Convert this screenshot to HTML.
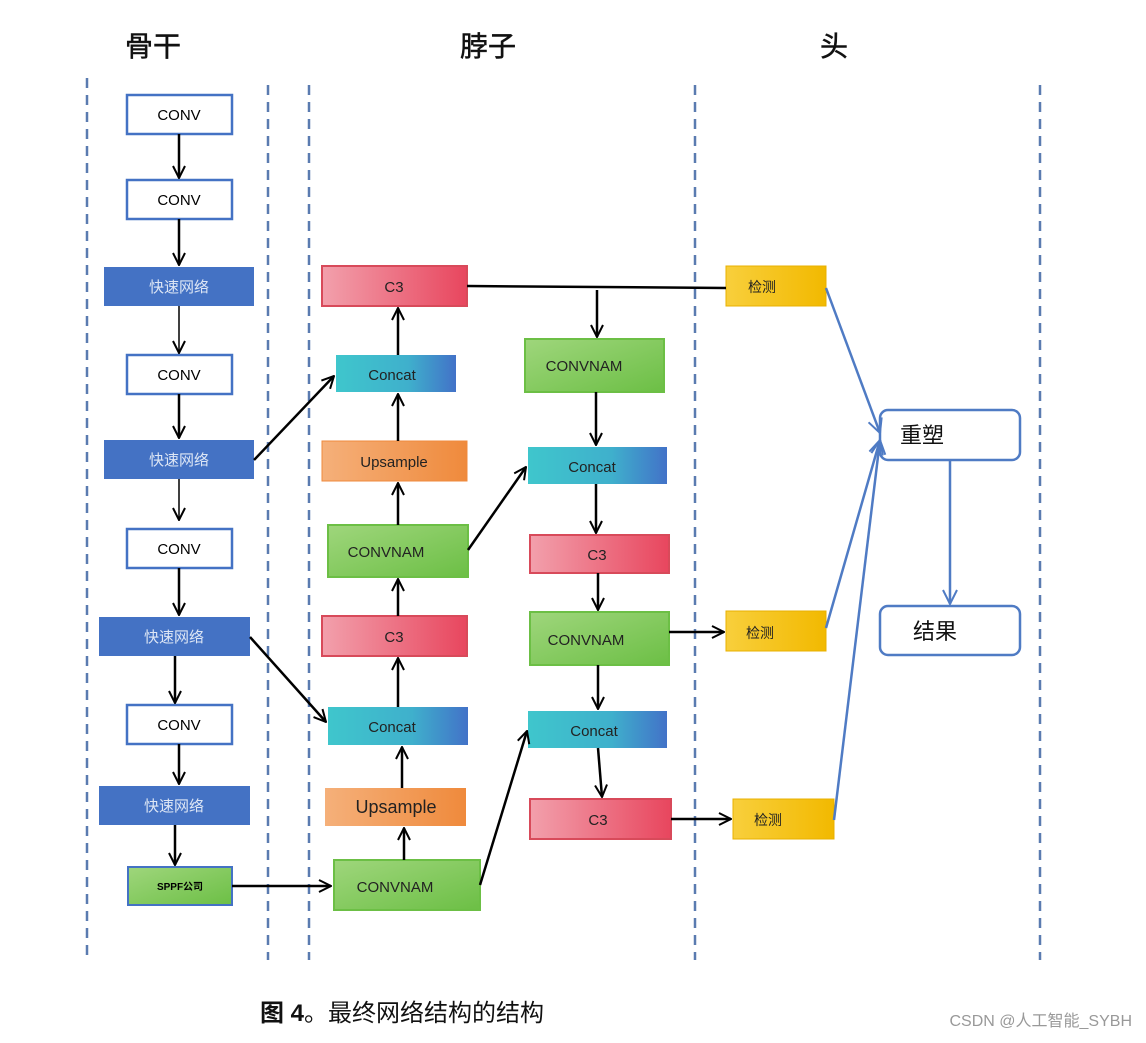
<!DOCTYPE html>
<html><head><meta charset="utf-8"><style>
html,body{margin:0;padding:0;background:#fff;}
svg text{font-family:"Liberation Sans","Noto Sans CJK SC",sans-serif;}
</style></head><body>
<svg width="1146" height="1038" viewBox="0 0 1146 1038" xmlns="http://www.w3.org/2000/svg">
<defs>
<marker id="a" viewBox="0 0 14 14" refX="13" refY="7" markerWidth="14" markerHeight="14" markerUnits="userSpaceOnUse" orient="auto"><path d="M1,1 L13,7 L1,13" fill="none" stroke="#000" stroke-width="2"/></marker>
<marker id="b" viewBox="0 0 16 16" refX="15" refY="8" markerWidth="16" markerHeight="16" markerUnits="userSpaceOnUse" orient="auto"><path d="M1,1 L15,8 L1,15" fill="none" stroke="#4f7bc4" stroke-width="2"/></marker>
<linearGradient id="red" x1="0" x2="1"><stop offset="0" stop-color="#f2a0ac"/><stop offset="1" stop-color="#e8465e"/></linearGradient>
<linearGradient id="cy" x1="0" x2="1"><stop offset="0" stop-color="#3fc6cc"/><stop offset="0.6" stop-color="#3fb0cc"/><stop offset="1" stop-color="#4272c8"/></linearGradient>
<linearGradient id="or" x1="0" x2="1"><stop offset="0" stop-color="#f5b07a"/><stop offset="1" stop-color="#ef8a3c"/></linearGradient>
<linearGradient id="gr" x1="0" x2="1" y1="0" y2="1"><stop offset="0" stop-color="#9fd67c"/><stop offset="1" stop-color="#6cbf45"/></linearGradient>
<linearGradient id="ye" x1="0" x2="1"><stop offset="0" stop-color="#f8cf3c"/><stop offset="1" stop-color="#f2b900"/></linearGradient>
</defs>
<g stroke="#5a7bb0" stroke-width="2.5" stroke-dasharray="10,7">
<line x1="87" y1="78" x2="87" y2="960"/><line x1="268" y1="85" x2="268" y2="960"/><line x1="309" y1="85" x2="309" y2="960"/><line x1="695" y1="85" x2="695" y2="960"/><line x1="1040" y1="85" x2="1040" y2="960"/>
</g>
<g font-size="28" fill="#111" stroke="#111" stroke-width="0.5"><text x="125" y="56">骨干</text><text x="460" y="56">脖子</text><text x="820" y="56">头</text></g>

<g font-size="15" text-anchor="middle">
<rect x="127" y="95" width="105" height="39" fill="#fff" stroke="#4472c4" stroke-width="2.5"/><text x="179" y="120">CONV</text>
<rect x="127" y="180" width="105" height="39" fill="#fff" stroke="#4472c4" stroke-width="2.5"/><text x="179" y="205">CONV</text>
<rect x="104" y="267" width="150" height="39" fill="#4472c4"/><text x="179" y="292" fill="#dde6f5">快速网络</text>
<rect x="127" y="355" width="105" height="39" fill="#fff" stroke="#4472c4" stroke-width="2.5"/><text x="179" y="380">CONV</text>
<rect x="104" y="440" width="150" height="39" fill="#4472c4"/><text x="179" y="465" fill="#dde6f5">快速网络</text>
<rect x="127" y="529" width="105" height="39" fill="#fff" stroke="#4472c4" stroke-width="2.5"/><text x="179" y="554">CONV</text>
<rect x="99" y="617" width="151" height="39" fill="#4472c4"/><text x="174" y="642" fill="#dde6f5">快速网络</text>
<rect x="127" y="705" width="105" height="39" fill="#fff" stroke="#4472c4" stroke-width="2.5"/><text x="179" y="730">CONV</text>
<rect x="99" y="786" width="151" height="39" fill="#4472c4"/><text x="174" y="811" fill="#dde6f5">快速网络</text>
<rect x="128" y="867" width="104" height="38" fill="url(#gr)" stroke="#4472c4" stroke-width="2"/><text x="180" y="890" font-size="10" font-weight="bold">SPPF公司</text>
</g>
<g stroke="#000" stroke-width="2.5" marker-end="url(#a)">
<line x1="179" y1="134" x2="179" y2="178"/><line x1="179" y1="219" x2="179" y2="265"/>
<line x1="179" y1="306" x2="179" y2="353" stroke-width="1.5"/><line x1="179" y1="394" x2="179" y2="438"/>
<line x1="179" y1="479" x2="179" y2="520" stroke-width="1.5"/><line x1="179" y1="568" x2="179" y2="615"/>
<line x1="175" y1="656" x2="175" y2="703"/><line x1="179" y1="744" x2="179" y2="784"/>
<line x1="175" y1="825" x2="175" y2="865"/>
<line x1="232" y1="886" x2="331" y2="886"/>
<line x1="254" y1="460" x2="334" y2="376"/>
<line x1="250" y1="637" x2="326" y2="722"/>
</g>

<g font-size="15" text-anchor="middle" fill="#222">
<rect x="322" y="266" width="145" height="40" fill="url(#red)" stroke="#d84a5a" stroke-width="2"/><text x="394" y="292">C3</text>
<rect x="336" y="355" width="120" height="37" fill="url(#cy)"/><text x="392" y="380">Concat</text>
<rect x="322" y="441" width="145" height="40" fill="url(#or)" stroke="#ef8a3c" stroke-width="1"/><text x="394" y="467">Upsample</text>
<rect x="328" y="525" width="140" height="52" fill="url(#gr)" stroke="#6cbf45" stroke-width="2"/><text x="386" y="557">CONVNAM</text>
<rect x="322" y="616" width="145" height="40" fill="url(#red)" stroke="#d84a5a" stroke-width="2"/><text x="394" y="642">C3</text>
<rect x="328" y="707" width="140" height="38" fill="url(#cy)"/><text x="392" y="732">Concat</text>
<rect x="325" y="788" width="141" height="38" fill="url(#or)"/><text x="396" y="813" font-size="18">Upsample</text>
<rect x="334" y="860" width="146" height="50" fill="url(#gr)" stroke="#6cbf45" stroke-width="2"/><text x="395" y="892">CONVNAM</text>
<rect x="525" y="339" width="139" height="53" fill="url(#gr)" stroke="#6cbf45" stroke-width="2"/><text x="584" y="371">CONVNAM</text>
<rect x="528" y="447" width="139" height="37" fill="url(#cy)"/><text x="592" y="472">Concat</text>
<rect x="530" y="535" width="139" height="38" fill="url(#red)" stroke="#d84a5a" stroke-width="2"/><text x="597" y="560">C3</text>
<rect x="530" y="612" width="139" height="53" fill="url(#gr)" stroke="#6cbf45" stroke-width="2"/><text x="586" y="645">CONVNAM</text>
<rect x="528" y="711" width="139" height="37" fill="url(#cy)"/><text x="594" y="736">Concat</text>
<rect x="530" y="799" width="141" height="40" fill="url(#red)" stroke="#d84a5a" stroke-width="2"/><text x="598" y="825">C3</text>
<rect x="726" y="266" width="100" height="40" fill="url(#ye)" stroke="#e8b000"/><text x="762" y="292" font-size="14">检测</text>
<rect x="726" y="611" width="100" height="40" fill="url(#ye)" stroke="#e8b000"/><text x="760" y="638" font-size="14">检测</text>
<rect x="733" y="799" width="101" height="40" fill="url(#ye)" stroke="#e8b000"/><text x="768" y="825" font-size="14">检测</text>
</g>
<rect x="880" y="410" width="140" height="50" rx="8" fill="#fff" stroke="#4f7bc4" stroke-width="2.5"/><text x="900" y="443" font-size="22" fill="#111">重塑</text>
<rect x="880" y="606" width="140" height="49" rx="8" fill="#fff" stroke="#4f7bc4" stroke-width="2.5"/><text x="913" y="639" font-size="22" fill="#111">结果</text>

<g stroke="#000" stroke-width="2.5" marker-end="url(#a)">
<line x1="398" y1="441" x2="398" y2="394"/><line x1="398" y1="525" x2="398" y2="483"/>
<line x1="398" y1="616" x2="398" y2="579"/><line x1="398" y1="707" x2="398" y2="658"/>
<line x1="402" y1="788" x2="402" y2="747"/><line x1="404" y1="860" x2="404" y2="828"/>
<line x1="398" y1="355" x2="398" y2="308"/>
<line x1="468" y1="550" x2="526" y2="467"/>
<line x1="480" y1="885" x2="527" y2="731"/>
<line x1="597" y1="290" x2="597" y2="337"/>
<line x1="596" y1="392" x2="596" y2="445"/><line x1="596" y1="484" x2="596" y2="533"/>
<line x1="598" y1="573" x2="598" y2="610"/><line x1="598" y1="665" x2="598" y2="709"/>
<line x1="598" y1="748" x2="602" y2="797"/>
<line x1="669" y1="632" x2="724" y2="632"/><line x1="671" y1="819" x2="731" y2="819"/>
</g>
<line x1="467" y1="286" x2="726" y2="288" stroke="#000" stroke-width="2.5"/>
<g stroke="#4f7bc4" stroke-width="2.5" marker-end="url(#b)">
<line x1="826" y1="288" x2="880" y2="433"/>
<line x1="826" y1="628" x2="880" y2="440"/>
<line x1="834" y1="820" x2="880" y2="440"/>
<line x1="950" y1="460" x2="950" y2="604"/>
</g>
<text x="260" y="1021" font-size="24" font-family="'Liberation Serif','Noto Serif CJK SC',serif" fill="#111"><tspan font-weight="bold">图 4</tspan>。最终网络结构的结构</text>
<text x="1132" y="1026" font-size="16" text-anchor="end" fill="#999">CSDN @人工智能_SYBH</text>
</svg>
</body></html>
